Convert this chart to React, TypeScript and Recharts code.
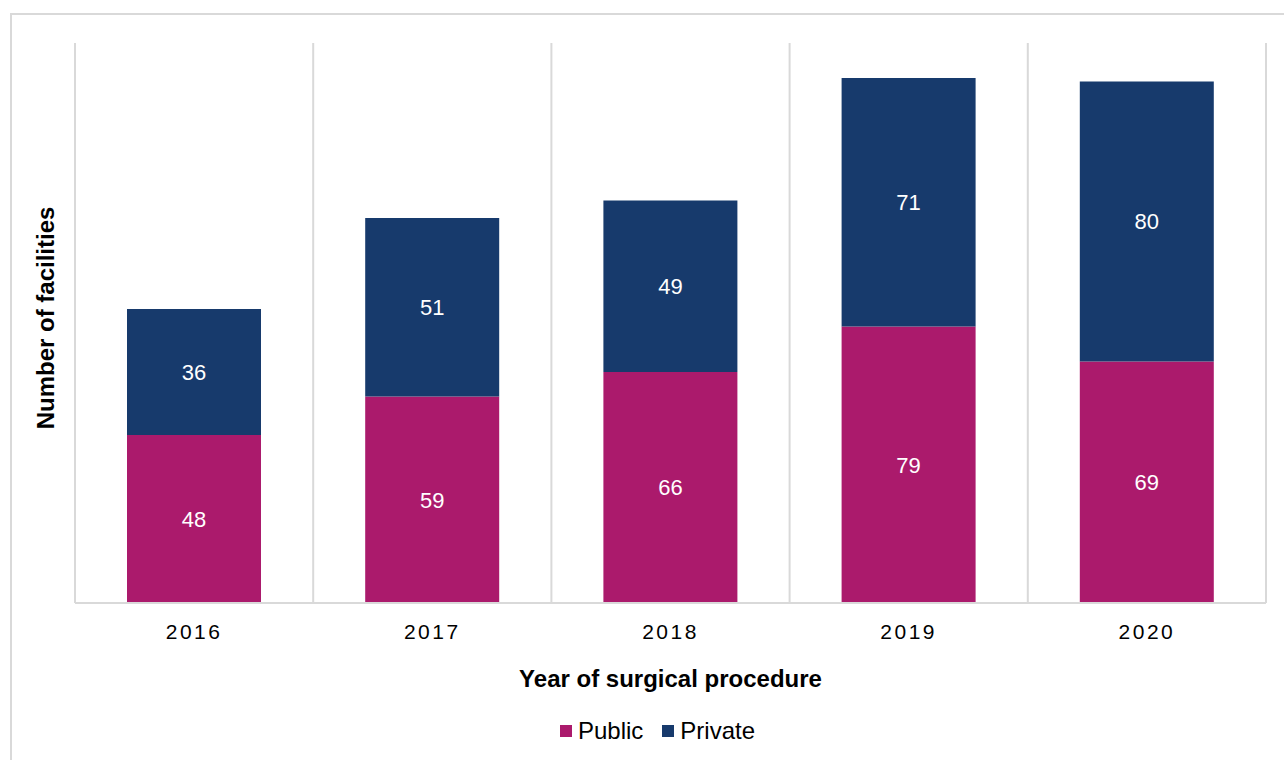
import React from 'react';
import { BarChart, Bar, XAxis, YAxis, CartesianGrid, Legend, LabelList } from 'recharts';

const years = ['2016', '2017', '2018', '2019', '2020'];
const publicValues = [48, 59, 66, 79, 69];
const privateValues = [36, 51, 49, 71, 80];

const PUBLIC_COLOR = '#AB1A6C';
const PRIVATE_COLOR = '#173A6C';
const FONT = '"Liberation Sans", Arial, sans-serif';

const data = years.map((y, i) => ({ year: y, Public: publicValues[i], Private: privateValues[i] }));

const renderLegend = () => (
  <div style={{ display: 'flex', justifyContent: 'center', alignItems: 'center', fontFamily: FONT, fontSize: 24, lineHeight: '28px', color: '#000', paddingLeft: 34 }}>
    {[{ name: 'Public', color: PUBLIC_COLOR }, { name: 'Private', color: PRIVATE_COLOR }].map((it, i) => (
      <div key={it.name} style={{ display: 'flex', alignItems: 'center', marginLeft: i === 0 ? 0 : 19 }}>
        <span style={{ display: 'inline-block', width: 12, height: 12, background: it.color, marginRight: 6 }} />
        <span>{it.name}</span>
      </div>
    ))}
  </div>
);

export default function App() {
  return (
    <div style={{ position: 'fixed', left: 0, top: 0, width: 1284, height: 760, overflow: 'hidden', background: '#fff' }}>
      <div style={{ position: 'absolute', left: 10, top: 13, width: 1300, height: 800, border: '2px solid #d9d9d9', boxSizing: 'border-box' }} />
      <div style={{ position: 'absolute', left: 0, top: 0 }}>
        <BarChart
          width={1284}
          height={760}
          data={data}
          margin={{ top: 43, right: 18, left: 15, bottom: 13 }}
          barSize={134}
        >
          <CartesianGrid
            horizontal={false}
            vertical={true}
            stroke="#d9d9d9"
            strokeWidth={2}
            verticalCoordinatesGenerator={({ offset }: any) =>
              [0, 1, 2, 3, 4, 5].map((i) => offset.left + (i * offset.width) / 5)
            }
          />
          <YAxis
            width={60}
            domain={[0, 160]}
            tick={false}
            tickLine={false}
            axisLine={false}
            label={{
              value: 'Number of facilities',
              angle: -90,
              position: 'center',
              dy: -5,
              style: { fontFamily: FONT, fontSize: 24, fontWeight: 700, fill: '#000', textAnchor: 'middle' },
            }}
          />
          <XAxis
            dataKey="year"
            height={114}
            tickLine={false}
            axisLine={{ stroke: '#d9d9d9', strokeWidth: 2 }}
            tickMargin={15}
            tick={{ fontFamily: FONT, fontSize: 21, fill: '#000', letterSpacing: 2.5 }}
            label={{
              value: 'Year of surgical procedure',
              position: 'insideBottom',
              offset: 30,
              style: { fontFamily: FONT, fontSize: 24, fontWeight: 700, fill: '#000' },
            }}
          />
          <Legend verticalAlign="bottom" height={30} content={renderLegend} />
          <Bar dataKey="Public" stackId="a" fill={PUBLIC_COLOR} isAnimationActive={false}>
            <LabelList dataKey="Public" position="center" fill="#fff" style={{ fontFamily: FONT, fontSize: 22 }} />
          </Bar>
          <Bar dataKey="Private" stackId="a" fill={PRIVATE_COLOR} isAnimationActive={false}>
            <LabelList dataKey="Private" position="center" fill="#fff" style={{ fontFamily: FONT, fontSize: 22 }} />
          </Bar>
        </BarChart>
      </div>
    </div>
  );
}
